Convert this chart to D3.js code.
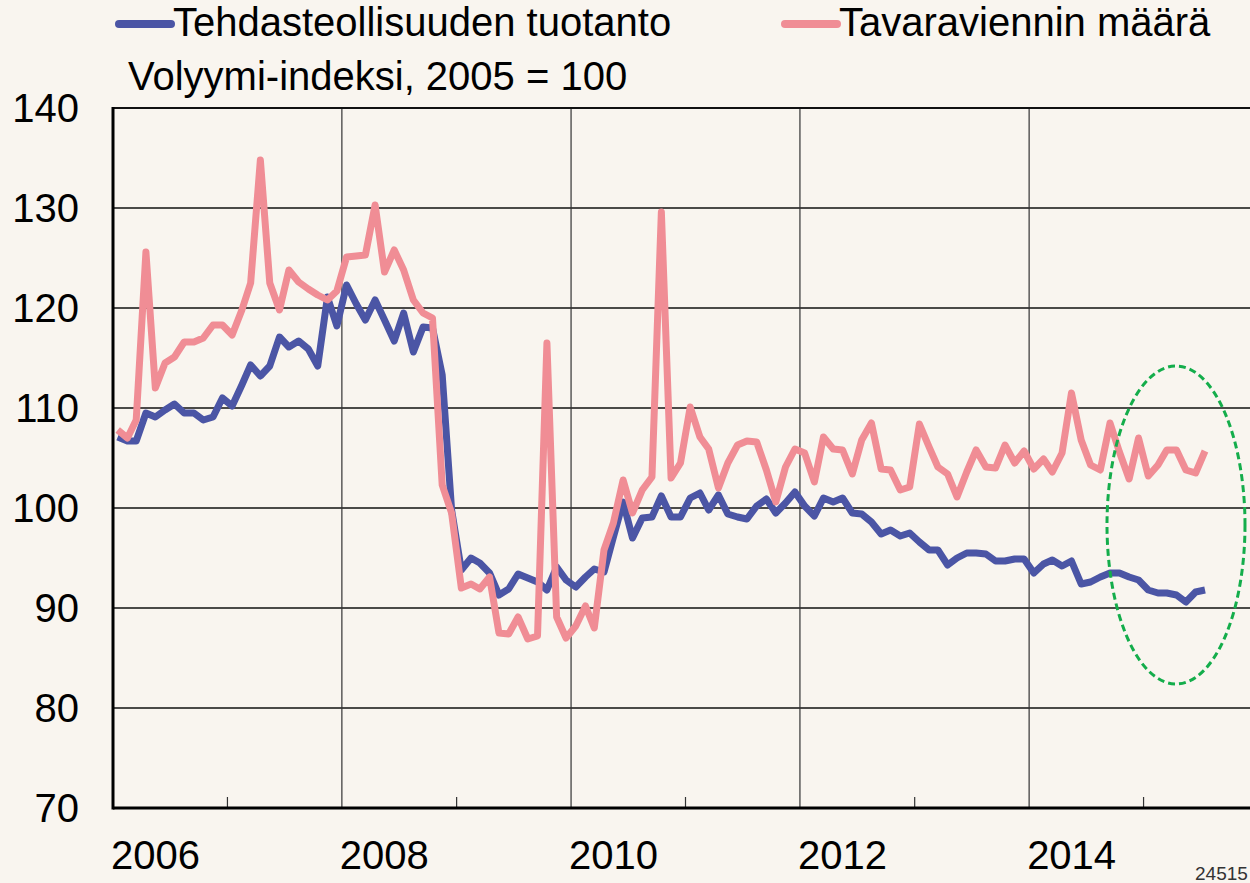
<!DOCTYPE html>
<html>
<head>
<meta charset="utf-8">
<script src="https://cdn.jsdelivr.net/npm/d3@7"></script>
<style>
  body { margin: 0; background: #f9f5ef; }
  svg { display: block; font-family: "Liberation Sans", Arial, sans-serif; }
</style>
</head>
<body>
<svg id="chart"></svg>
<script>
// monthly series, Jan 2006 - Jul 2015, volume index 2005 = 100
const teollisuus = [
  107.1, 106.7, 106.7, 109.5, 109.1, 109.8, 110.4, 109.5, 109.5, 108.8, 109.1, 111.0,
  110.2, 112.3, 114.3, 113.2, 114.2, 117.1, 116.1, 116.7, 115.9, 114.2, 121.1, 118.2,
  122.3, 120.4, 118.8, 120.8, 118.8, 116.7, 119.5, 115.6, 118.1, 118.0, 113.3, 99.8,
  93.8, 95.0, 94.5, 93.5, 91.3, 91.9, 93.4, 93.0, 92.6, 91.8, 94.1, 92.8,
  92.1, 93.1, 93.9, 93.6, 97.1, 100.6, 97.0, 99.0, 99.1, 101.2, 99.1, 99.1,
  101.0, 101.5, 99.8, 101.3, 99.4, 99.1, 98.9, 100.2, 100.9, 99.5, 100.5, 101.6,
  100.2, 99.2, 101.0, 100.6, 101.0, 99.5, 99.4, 98.6, 97.4, 97.8, 97.2, 97.5,
  96.6, 95.8, 95.8, 94.3, 95.0, 95.5, 95.5, 95.4, 94.7, 94.7, 94.9, 94.9,
  93.5, 94.4, 94.8, 94.2, 94.7, 92.4, 92.6, 93.1, 93.5, 93.5, 93.1, 92.8,
  91.8, 91.5, 91.5, 91.3, 90.6, 91.6, 91.8
];
const vienti = [
  107.8, 107.0, 108.8, 125.6, 112.0, 114.5, 115.1, 116.6, 116.6, 117.0, 118.3, 118.3,
  117.3, 119.8, 122.5, 134.8, 122.5, 119.8, 123.8, 122.6, 121.9, 121.3, 120.8, 121.7,
  125.1, 125.2, 125.3, 130.3, 123.6, 125.8, 123.8, 120.8, 119.5, 119.0, 102.3, 99.5,
  92.0, 92.4, 91.9, 93.1, 87.5, 87.4, 89.1, 86.9, 87.2, 116.5, 89.1, 87.0,
  88.2, 90.2, 88.0, 95.8, 98.5, 102.8, 99.5, 101.8, 103.1, 129.6, 103.0, 104.5,
  110.1, 107.1, 105.9, 102.0, 104.5, 106.3, 106.7, 106.6, 103.8, 100.6, 104.1, 105.9,
  105.5, 102.6, 107.1, 105.9, 105.8, 103.4, 106.8, 108.5, 103.9, 103.8, 101.8, 102.1,
  108.4, 106.1, 104.1, 103.4, 101.1, 103.6, 105.8, 104.1, 104.0, 106.3, 104.5, 105.7,
  103.9, 104.9, 103.6, 105.5, 111.5, 106.8, 104.3, 103.8, 108.5, 105.6, 102.9, 107.0,
  103.2, 104.3, 105.8, 105.8, 103.8, 103.5, 105.7
];
const months = d3.timeMonth.range(new Date(2006, 0, 1), new Date(2015, 7, 1));
const yTicks = [70, 80, 90, 100, 110, 120, 130, 140];
const yearLabels = [2006, 2008, 2010, 2012, 2014];
const minorYears = [2007, 2009, 2011, 2013, 2015];
const seriesNames = ["Tehdasteollisuuden tuotanto", "Tavaraviennin määrä"];
const colors = ["#4b55a5", "#f08d95"];

const width = 1250;
const height = 883;
const margin = { top: 108, bottom: 75, left: 113, right: -8 };

const x = d3.scaleTime()
  .domain([new Date(2006, 0, 1), new Date(2016, 0, 1)])
  .range([margin.left, width - margin.right]);
const y = d3.scaleLinear()
  .domain([70, 140])
  .range([height - margin.bottom, margin.top]);

const svg = d3.select("#chart").attr("width", width).attr("height", height);
svg.append("rect").attr("width", width).attr("height", height).attr("fill", "#f9f5ef");

//grid
svg.append("g")
  .attr("id", "y-grid")
  .selectAll("line")
  .data(yTicks.filter((d) => d > 70))
  .join("line")
  .attr("x1", margin.left)
  .attr("x2", width)
  .attr("y1", (d) => y(d))
  .attr("y2", (d) => y(d))
  .attr("stroke", "#111")
  .attr("stroke-width", 1.5);

svg.append("g")
  .attr("id", "x-grid")
  .selectAll("line")
  .data(yearLabels.slice(1))
  .join("line")
  .attr("x1", (d) => x(new Date(d, 0, 1)))
  .attr("x2", (d) => x(new Date(d, 0, 1)))
  .attr("y1", y(140))
  .attr("y2", y(70))
  .attr("stroke", "#333")
  .attr("stroke-width", 1.2);

svg.append("g")
  .attr("id", "minor-ticks")
  .selectAll("line")
  .data(minorYears)
  .join("line")
  .attr("x1", (d) => x(new Date(d, 0, 1)))
  .attr("x2", (d) => x(new Date(d, 0, 1)))
  .attr("y1", y(70) - 11)
  .attr("y2", y(70))
  .attr("stroke", "#333")
  .attr("stroke-width", 1.2);

//lines
const line = d3.line()
  .x((d, i) => x(d3.timeDay.offset(months[i], 15)))
  .y((d) => y(d));

svg.append("defs").append("clipPath").attr("id", "clip")
  .append("rect")
  .attr("x", margin.left + 1.5).attr("y", margin.top)
  .attr("width", width).attr("height", y(70) - margin.top);

const lines = svg.append("g").attr("clip-path", "url(#clip)");
[teollisuus, vienti].forEach((s, k) => {
  lines.append("path")
    .datum(s)
    .attr("fill", "none")
    .attr("stroke", colors[k])
    .attr("stroke-width", 7)
    .attr("stroke-linejoin", "round")
    .attr("d", line);
});

//frame
svg.append("line")
  .attr("x1", margin.left).attr("x2", width)
  .attr("y1", y(140)).attr("y2", y(140))
  .attr("stroke", "#111").attr("stroke-width", 2);
svg.append("line")
  .attr("x1", margin.left).attr("x2", margin.left)
  .attr("y1", y(140) - 1).attr("y2", y(70) + 1.5)
  .attr("stroke", "#000").attr("stroke-width", 3);
svg.append("line")
  .attr("x1", margin.left).attr("x2", width)
  .attr("y1", y(70)).attr("y2", y(70))
  .attr("stroke", "#000").attr("stroke-width", 3);

//axis labels
svg.append("g")
  .selectAll("text")
  .data(yTicks)
  .join("text")
  .attr("x", 79)
  .attr("y", (d) => y(d) + 14)
  .attr("text-anchor", "end")
  .attr("font-size", 40)
  .text((d) => d);

svg.append("g")
  .selectAll("text")
  .data(yearLabels)
  .join("text")
  .attr("x", (d) => x(new Date(d, 0, 1)) - 2)
  .attr("y", 869)
  .attr("font-size", 40)
  .text((d) => d);

svg.append("text")
  .attr("x", 1195).attr("y", 880)
  .attr("font-size", 19).attr("fill", "#333")
  .text("24515");

//legend
const legendX = [119, 785];
seriesNames.forEach((name, k) => {
  svg.append("line")
    .attr("x1", legendX[k]).attr("x2", legendX[k] + 52)
    .attr("y1", 24).attr("y2", 24)
    .attr("stroke", colors[k]).attr("stroke-width", 8)
    .attr("stroke-linecap", "round");
  svg.append("text")
    .attr("x", legendX[k] + 54).attr("y", 36)
    .attr("font-size", 40)
    .text(name);
});
svg.append("text")
  .attr("x", 128).attr("y", 90)
  .attr("font-size", 40)
  .text("Volyymi-indeksi, 2005 = 100");

//highlight ellipse
svg.append("ellipse")
  .attr("cx", 1176)
  .attr("cy", y(98.3))
  .attr("rx", 69)
  .attr("ry", 159)
  .attr("fill", "none")
  .attr("stroke", "#14ad4b")
  .attr("stroke-width", 3)
  .attr("stroke-dasharray", "7 4");
</script>
</body>
</html>
